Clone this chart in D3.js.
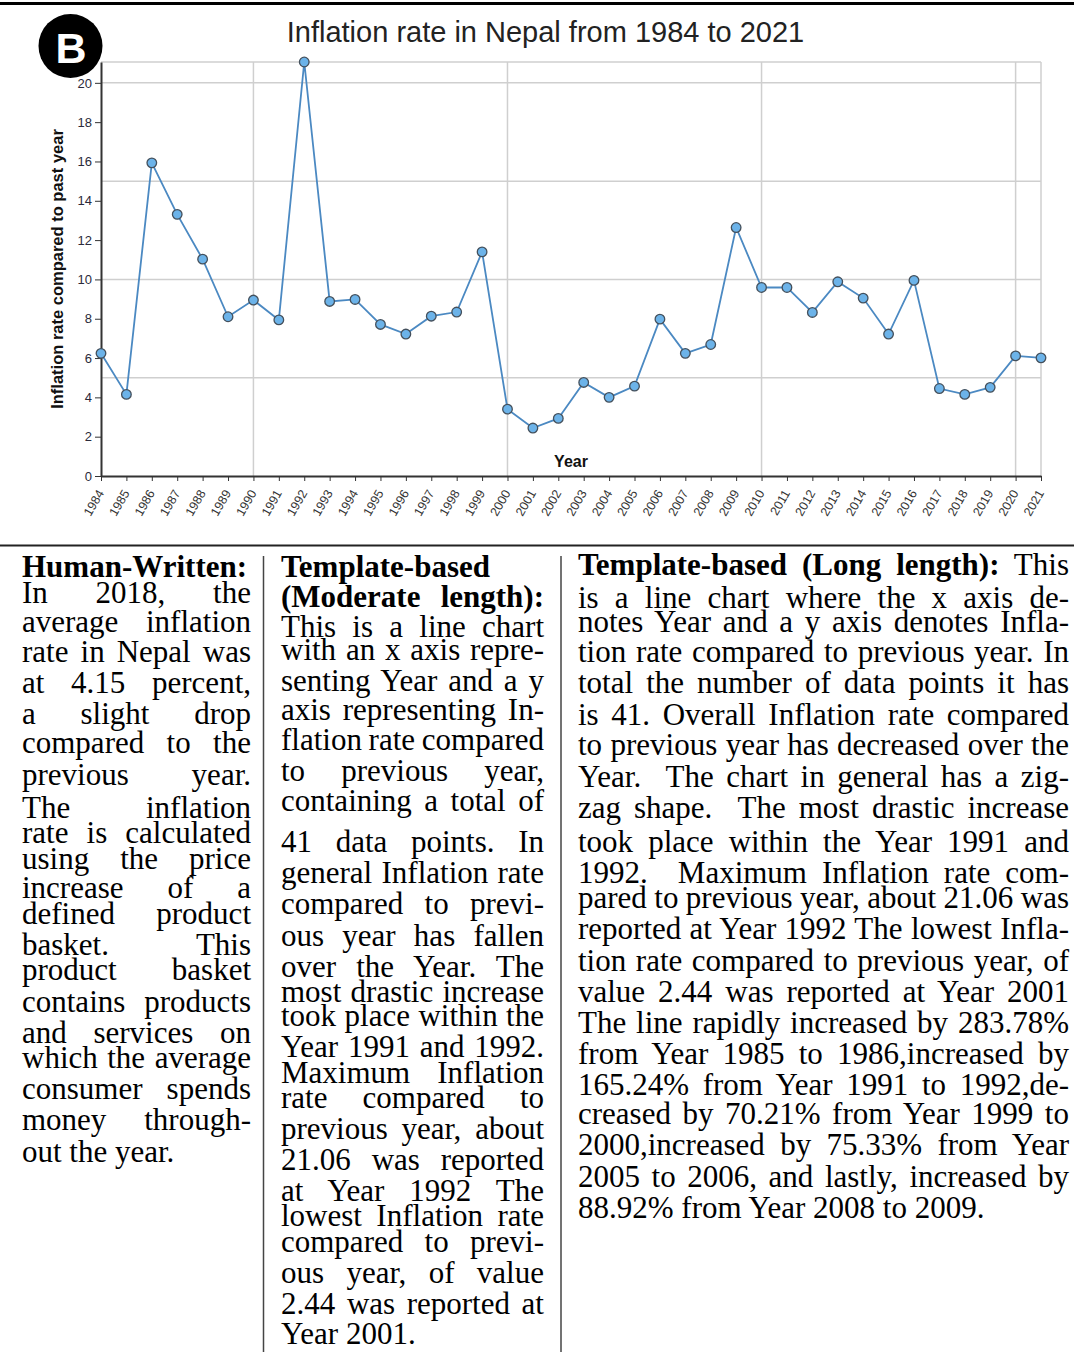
<!DOCTYPE html>
<html>
<head>
<meta charset="utf-8">
<script src="https://cdn.jsdelivr.net/npm/d3@7"></script>
<style>
  body { margin: 0; background: #fff; }
  svg { display: block; }
</style>
</head>
<body>
<script>
// data
var years = [1984, 1985, 1986, 1987, 1988, 1989, 1990, 1991, 1992, 1993, 1994, 1995, 1996,
  1997, 1998, 1999, 2000, 2001, 2002, 2003, 2004, 2005, 2006, 2007, 2008, 2009, 2010,
  2011, 2012, 2013, 2014, 2015, 2016, 2017, 2018, 2019, 2020, 2021];
var rates = [6.24, 4.15, 15.93, 13.31, 11.03, 8.10, 8.95, 7.94, 21.06, 8.88, 8.98, 7.71, 7.22,
  8.13, 8.34, 11.40, 3.40, 2.44, 2.93, 4.76, 4.00, 4.57, 7.98, 6.24, 6.69, 12.64, 9.59,
  9.59, 8.32, 9.88, 9.05, 7.22, 9.95, 4.45, 4.15, 4.51, 6.11, 6.01];
var yTicks = [0, 2, 4, 6, 8, 10, 12, 14, 16, 18, 20];
var yGrid = [5, 10, 15, 20];
var xGrid = [1990, 2000, 2010, 2020];

var title = "Inflation rate in Nepal from 1984 to 2021";
var xTitle = "Year";
var yTitle = "Inflation rate compared to past year";

// caption columns: [bold part, regular part]
var col1 = [
  ["Human-Written:", ""], ["", "In 2018, the"], ["", "average inflation"], ["", "rate in Nepal was"],
  ["", "at 4.15 percent,"], ["", "a slight drop"], ["", "compared to the"], ["", "previous year."],
  ["", "The inflation"], ["", "rate is calculated"], ["", "using the price"], ["", "increase of a"],
  ["", "defined product"], ["", "basket. This"], ["", "product basket"], ["", "contains products"],
  ["", "and services on"], ["", "which the average"], ["", "consumer spends"], ["", "money through-"],
  ["", "out the year."]
];
var col1Y = [577, 603, 632, 662, 693, 724, 753, 785, 818, 843, 869, 898, 924, 955, 980, 1012, 1043, 1068, 1099, 1130, 1162];

var col2 = [
  ["Template-based", ""], ["(Moderate length):", ""], ["", "This is a line chart"], ["", "with an x axis repre-"],
  ["", "senting Year and a y"], ["", "axis representing In-"], ["", "flation rate compared"], ["", "to previous year,"],
  ["", "containing a total of"], ["", "41 data points. In"], ["", "general Inflation rate"], ["", "compared to previ-"],
  ["", "ous year has fallen"], ["", "over the Year. The"], ["", "most drastic increase"], ["", "took place within the"],
  ["", "Year 1991 and 1992."], ["", "Maximum Inflation"], ["", "rate compared to"], ["", "previous year, about"],
  ["", "21.06 was reported"], ["", "at Year 1992 The"], ["", "lowest Inflation rate"], ["", "compared to previ-"],
  ["", "ous year, of value"], ["", "2.44 was reported at"], ["", "Year 2001."]
];
var col2Y = [577, 607, 637, 660, 691, 720, 750, 781, 811, 852, 883, 914, 946, 977, 1002, 1026, 1057, 1083, 1108, 1139, 1170, 1201, 1226, 1252, 1283, 1314, 1344];

var col3 = [
  ["Template-based (Long length):", " This"], ["", "is a line chart where the x axis de-"],
  ["", "notes Year and a y axis denotes Infla-"], ["", "tion rate compared to previous year. In"],
  ["", "total the number of data points it has"], ["", "is 41. Overall Inflation rate compared"],
  ["", "to previous year has decreased over the"], ["", "Year.  The chart in general has a zig-"],
  ["", "zag shape.  The most drastic increase"], ["", "took place within the Year 1991 and"],
  ["", "1992.  Maximum Inflation rate com-"], ["", "pared to previous year, about 21.06 was"],
  ["", "reported at Year 1992 The lowest Infla-"], ["", "tion rate compared to previous year, of"],
  ["", "value 2.44 was reported at Year 2001"], ["", "The line rapidly increased by 283.78%"],
  ["", "from Year 1985 to 1986,increased by"], ["", "165.24% from Year 1991 to 1992,de-"],
  ["", "creased by 70.21% from Year 1999 to"], ["", "2000,increased by 75.33% from Year"],
  ["", "2005 to 2006, and lastly, increased by"], ["", "88.92% from Year 2008 to 2009."]
];
var col3Y = [575, 608, 632, 662, 693, 725, 755, 787, 818, 852, 883, 908, 939, 971, 1002, 1033, 1064, 1095, 1124, 1155, 1187, 1218];

var W = 1074, H = 1352;
var svg = d3.select("body").append("svg").attr("width", W).attr("height", H);

var x = d3.scaleLinear().domain([years[0], years[years.length - 1]]).range([101, 1041]);
var y = d3.scaleLinear().domain([0, d3.max(rates)]).range([476, 62]);

// frame + grid
var grid = svg.append("g").attr("stroke", "#cfcfcf").attr("stroke-width", 1.5);
grid.selectAll(".hg").data(yGrid.concat([d3.max(rates)])).enter().append("line")
  .attr("x1", x.range()[0]).attr("x2", x.range()[1])
  .attr("y1", d => y(d)).attr("y2", d => y(d));
grid.selectAll(".vg").data(xGrid.concat([years[years.length - 1]])).enter().append("line")
  .attr("x1", d => x(d)).attr("x2", d => x(d))
  .attr("y1", y.range()[0]).attr("y2", y.range()[1]);

// axes
var yAxis = svg.append("g").attr("transform", "translate(101,0)")
  .call(d3.axisLeft(y).tickValues(yTicks).tickSize(6).tickSizeOuter(0).tickPadding(3));
yAxis.select(".domain").attr("stroke", "#333").attr("stroke-width", 2);
yAxis.selectAll(".tick line").attr("stroke", "#333");
yAxis.selectAll("text").attr("font-family", "Liberation Sans, Arial, sans-serif")
  .attr("font-size", 13).attr("fill", "#2a2a3a");

var xAxis = svg.append("g").attr("transform", "translate(0,476)")
  .call(d3.axisBottom(x).tickValues(years).tickFormat(d3.format("d")).tickSize(5).tickSizeOuter(0));
xAxis.select(".domain").attr("stroke", "#333").attr("stroke-width", 2);
xAxis.selectAll(".tick line").attr("stroke", "#333");
xAxis.selectAll("text")
  .attr("font-family", "Liberation Sans, Arial, sans-serif")
  .attr("font-size", 12.5).attr("fill", "#333")
  .attr("text-anchor", "end")
  .attr("x", 0).attr("y", 0).attr("dy", 0)
  .attr("transform", "translate(3,17) rotate(-60)");

// line + points
var line = d3.line().x((d, i) => x(years[i])).y(d => y(d));
svg.append("path").datum(rates)
  .attr("d", line).attr("fill", "none")
  .attr("stroke", "#4b89c2").attr("stroke-width", 1.8);

svg.selectAll(".pt").data(rates).enter().append("circle")
  .attr("cx", (d, i) => x(years[i])).attr("cy", d => y(d)).attr("r", 4.8)
  .attr("fill", "#6cb3e9").attr("stroke", "#44505c").attr("stroke-width", 1.3);

// titles
svg.append("text").attr("x", 545.5).attr("y", 42).attr("text-anchor", "middle")
  .attr("font-family", "Liberation Sans, Arial, sans-serif").attr("font-size", 29)
  .attr("fill", "#222").text(title);
svg.append("text").attr("x", 571).attr("y", 467).attr("text-anchor", "middle")
  .attr("font-family", "Liberation Sans, Arial, sans-serif").attr("font-size", 16)
  .attr("font-weight", "bold").attr("fill", "#111").text(xTitle);
svg.append("text").attr("transform", "translate(63,269) rotate(-90)").attr("text-anchor", "middle")
  .attr("font-family", "Liberation Sans, Arial, sans-serif").attr("font-size", 16.5)
  .attr("font-weight", "bold").attr("fill", "#111").text(yTitle);

// badge
svg.append("circle").attr("cx", 70.5).attr("cy", 46).attr("r", 32).attr("fill", "#000");
svg.append("text").attr("x", 71).attr("y", 63).attr("text-anchor", "middle")
  .attr("font-family", "Liberation Sans, Arial, sans-serif").attr("font-size", 43)
  .attr("font-weight", "bold").attr("fill", "#fff").text("B");

// rules
svg.append("line").attr("x1", 0).attr("x2", W).attr("y1", 3.5).attr("y2", 3.5)
  .attr("stroke", "#000").attr("stroke-width", 3);
svg.append("line").attr("x1", 0).attr("x2", W).attr("y1", 545.5).attr("y2", 545.5)
  .attr("stroke", "#222").attr("stroke-width", 2);
[263.5, 561].forEach(function (cx) {
  svg.append("line").attr("x1", cx).attr("x2", cx).attr("y1", 556).attr("y2", H)
    .attr("stroke", "#444").attr("stroke-width", 1.5);
});

// captions, justified per line
function column(lines, ys, left, width) {
  var g = svg.append("g")
    .attr("font-family", "Liberation Serif, Times New Roman, serif")
    .attr("font-size", 31).attr("fill", "#000");
  lines.forEach(function (ln, i) {
    var t = g.append("text").attr("x", left).attr("y", ys[i]).attr("xml:space", "preserve")
      .style("white-space", "pre");
    if (ln[0]) t.append("tspan").attr("font-weight", "bold").text(ln[0]);
    if (ln[1]) t.append("tspan").text(ln[1]);
    var full = ln[0] + ln[1];
    var spaces = (full.match(/ /g) || []).length;
    var last = i === lines.length - 1;
    if (spaces > 0 && !last) {
      var nat = t.node().getComputedTextLength();
      t.style("word-spacing", ((width - nat) / spaces) + "px");
    }
  });
}
column(col1, col1Y, 22, 229);
column(col2, col2Y, 281, 263);
column(col3, col3Y, 578, 491);
</script>
</body>
</html>
